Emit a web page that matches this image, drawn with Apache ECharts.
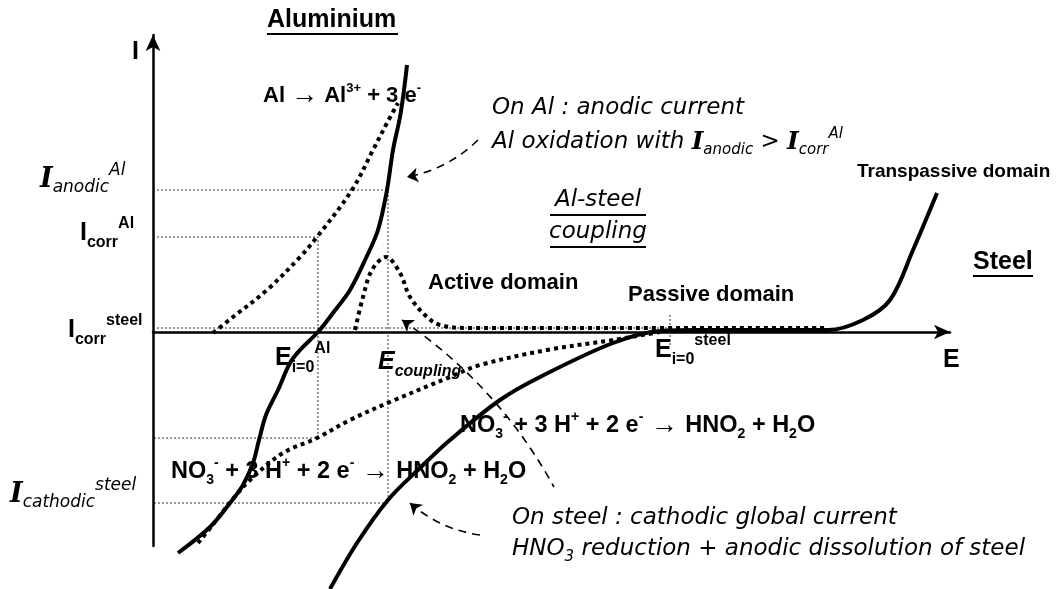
<!DOCTYPE html>
<html>
<head>
<meta charset="utf-8">
<script src="https://cdn.jsdelivr.net/npm/echarts@6/dist/echarts.min.js"></script>
<style>
  html, body { margin: 0; padding: 0; background: #fff; }
  #chart { width: 1058px; height: 589px; }
</style>
</head>
<body>
<div id="chart"></div>
<script>
// potential E (x) and current I (y), arbitrary units, origin where the axes cross

// Al polarisation curve (solid)
var aluminiumE = [25, 57, 77, 90, 100, 106, 113, 125, 137, 147, 165, 180, 197, 213, 225, 234, 240, 247, 251, 254];
var aluminiumI = [-221, -195, -171, -153, -131, -108, -83, -58, -31, -18, 0, 19, 42, 74, 102, 142, 182, 215, 242, 267];
// Al oxidation partial curve (dotted)
var alOxidationE = [60, 80, 114, 147, 164, 199, 220, 234, 245];
var alOxidationI = [-1, 15, 42, 75, 95, 142, 182, 209, 229];
// steel global curve (solid)
var steelE = [177, 204, 235, 267, 297, 347, 387, 460, 507, 547, 600, 675, 710, 737, 760, 784];
var steelI = [-257, -211, -168, -136, -108, -68, -45, -11, 1, 2, 2, 2, 12, 32, 82, 139];
// steel anodic partial curve: active peak then passive plateau (dotted)
var steelAnodicE = [202, 210, 219, 233, 247, 257, 274, 287, 314, 400, 507, 600, 675];
var steelAnodicI = [2, 35, 62, 75, 59, 35, 15, 7, 4, 4, 4, 4, 4];
// HNO3 reduction cathodic curve (dotted)
var steelCathodicE = [45, 62, 79, 97, 130, 164, 197, 237, 297, 327, 394, 460, 507];
var steelCathodicI = [-211, -190, -168, -148, -121, -106, -88, -70, -45, -33, -18, -8, 0];

// characteristic levels
var E_corrAl = 165, E_coupling = 235, E_corrSteel = 517;
var I_anodicAl = 142, I_corrAl = 95, I_corrSteel = 4, I_cathAtEAl = -106, I_cathodicSteel = -171;

// dashed annotation arrows [from, to]
var arrowAl = [[325, 192], [254, 155]];
var arrowCoupling = [[249, 12], [401, -155]];   // arrow head at first point
var arrowSteel = [[327, -203], [257, -171]];

function zip(xs, ys) {
  return xs.map(function (x, i) { return [x, ys[i]]; });
}

var arial = 'Liberation Sans';
var comic = 'DejaVu Sans';
var rich = {
  b: { fontFamily: arial, fontWeight: 'bold', fontSize: 22 },
  m: { fontFamily: arial, fontWeight: 'bold', fontSize: 19 },
  e: { fontFamily: arial, fontWeight: 'bold', fontSize: 23.5 },
  esub: { fontFamily: arial, fontWeight: 'bold', fontSize: 14, padding: [17, 0, 0, 0] },
  esup: { fontFamily: arial, fontWeight: 'bold', fontSize: 14, padding: [0, 0, 17, 0] },
  arr: { fontFamily: arial, fontWeight: 'normal', fontSize: 27 },
  bsup: { fontFamily: arial, fontWeight: 'bold', fontSize: 13, padding: [0, 0, 16, 0] },
  L: { fontFamily: arial, fontWeight: 'bold', fontSize: 25 },
  Lsub: { fontFamily: arial, fontWeight: 'bold', fontSize: 16, padding: [19, 0, 0, 0] },
  Lsup: { fontFamily: arial, fontWeight: 'bold', fontSize: 16, padding: [0, 0, 18, 0] },
  LI: { fontFamily: arial, fontWeight: 'bold', fontStyle: 'italic', fontSize: 25 },
  LIsub: { fontFamily: arial, fontWeight: 'bold', fontStyle: 'italic', fontSize: 16, padding: [19, 0, 0, 0] },
  i: { fontFamily: comic, fontStyle: 'italic', fontSize: 23 },
  iI: { fontFamily: 'DejaVu Serif', fontStyle: 'italic', fontWeight: 'bold', fontSize: 25 },
  isub: { fontFamily: comic, fontStyle: 'italic', fontSize: 15, padding: [16, 0, 0, 0] },
  isup: { fontFamily: comic, fontStyle: 'italic', fontSize: 15, padding: [0, 0, 16, 0] },
  cI: { fontFamily: 'DejaVu Serif', fontStyle: 'italic', fontWeight: 'bold', fontSize: 27 },
  csub: { fontFamily: comic, fontStyle: 'italic', fontSize: 17, padding: [16, 0, 0, 0] },
  csup: { fontFamily: comic, fontStyle: 'italic', fontSize: 17, padding: [0, 0, 18, 0] }
};

function label(x, y, text, align) {
  return {
    type: 'text', x: x, y: y, z: 10,
    style: {
      text: text, rich: rich, fill: '#000',
      fontFamily: arial, fontWeight: 'bold', fontSize: 22,
      align: align || 'left', verticalAlign: 'middle'
    }
  };
}
function underline(x, y, w) {
  return { type: 'rect', z: 10, shape: { x: x, y: y, width: w, height: 2 }, style: { fill: '#000' } };
}

var equation = '{e|NO}{esub|3}{esup|-}{e| + 3 H}{esup|+}{e| + 2 e}{esup|-}{arr| → }{e|HNO}{esub|2}{e| + H}{esub|2}{e|O}';

var curve = function (name, data, dotted) {
  return {
    name: name, type: 'line', data: data, smooth: 0.35,
    symbol: 'none', clip: false,
    lineStyle: { color: '#000', width: 4, type: dotted ? 'dotted' : 'solid' },
    z: dotted ? 3 : 4
  };
};
var arrowLines = function (pair, curveness, headFirst) {
  return {
    type: 'lines', coordinateSystem: 'cartesian2d', clip: false,
    symbol: headFirst ? ['arrow', 'none'] : ['none', 'arrow'], symbolSize: 11,
    lineStyle: { color: '#000', width: 1.6, type: [8, 6], curveness: curveness, opacity: 1 },
    data: [{ coords: pair }], z: 5
  };
};

var myChart = echarts.init(document.getElementById('chart'));

var option = {
  animation: false,
  backgroundColor: '#fff',
  grid: { left: 153, right: 108, top: 35, bottom: 43 },
  xAxis: {
    type: 'value', min: 0, max: 797,
    axisLine: { onZero: true, symbol: ['none', 'arrow'], symbolSize: [11, 16], lineStyle: { color: '#000', width: 2.5 } },
    axisTick: { show: false }, axisLabel: { show: false }, splitLine: { show: false }
  },
  yAxis: {
    type: 'value', min: -214, max: 297,
    axisLine: { onZero: true, symbol: ['none', 'arrow'], symbolSize: [11, 16], lineStyle: { color: '#000', width: 2.5 } },
    axisTick: { show: false }, axisLabel: { show: false }, splitLine: { show: false }
  },
  series: [
    curve('Al', zip(aluminiumE, aluminiumI), false),
    curve('Al oxidation', zip(alOxidationE, alOxidationI), true),
    curve('Steel', zip(steelE, steelI), false),
    curve('Steel anodic', zip(steelAnodicE, steelAnodicI), true),
    curve('HNO3 reduction', zip(steelCathodicE, steelCathodicI), true),
    {
      type: 'lines', coordinateSystem: 'cartesian2d', polyline: true, z: 2,
      lineStyle: { color: '#333', width: 1, type: [2, 2], opacity: 1 },
      data: [
        { coords: [[0, I_anodicAl], [E_coupling, I_anodicAl], [E_coupling, I_cathodicSteel], [0, I_cathodicSteel]] },
        { coords: [[0, I_corrAl], [E_corrAl, I_corrAl], [E_corrAl, I_cathAtEAl], [0, I_cathAtEAl]] },
        { coords: [[0, I_corrSteel], [E_corrSteel, I_corrSteel]] },
        { coords: [[E_corrSteel, 17], [E_corrSteel, -13]] }
      ]
    },
    arrowLines(arrowAl, 0.15, false),
    arrowLines(arrowCoupling, 0.12, true),
    arrowLines(arrowSteel, 0.15, false)
  ],
  graphic: [
    label(267, 20, '{L|Aluminium}'), underline(267, 33, 131),
    label(132, 52, '{L|I}'),
    label(263, 96, '{b|Al }{arr|→}{b| Al}{bsup|3+}{b| + 3 e}{bsup|-}'),
    label(492, 108, '{i|On Al : anodic current}'),
    label(492, 142, '{i|Al oxidation with }{iI|I}{isub|anodic}{i| > }{iI|I}{isub|corr}{isup|Al}'),
    label(40, 180, '{cI|I}{csub|anodic}{csup|Al}'),
    label(80, 233, '{L|I}{Lsub|corr}{Lsup|Al}'),
    label(598, 200, '{i|Al-steel}', 'center'), underline(550, 214, 96),
    label(598, 232, '{i|coupling}', 'center'), underline(550, 246, 96),
    label(857, 172, '{m|Transpassive domain}'),
    label(973, 262, '{L|Steel}'), underline(973, 275, 60),
    label(428, 283, '{b|Active domain}'),
    label(628, 295, '{b|Passive domain}'),
    label(68, 330, '{L|I}{Lsub|corr}{Lsup|steel}'),
    label(275, 358, '{L|E}{Lsub|i=0}{Lsup|Al}'),
    label(378, 362, '{LI|E}{LIsub|coupling}'),
    label(655, 350, '{L|E}{Lsub|i=0}{Lsup|steel}'),
    label(943, 360, '{L|E}'),
    label(460, 426, equation),
    label(171, 472, equation),
    label(10, 495, '{cI|I}{csub|cathodic}{csup|steel}'),
    label(512, 518, '{i|On steel : cathodic global current}'),
    label(512, 549, '{i|HNO}{isub|3}{i| reduction + anodic dissolution of steel}')
  ]
};

myChart.setOption(option);
</script>
</body>
</html>
